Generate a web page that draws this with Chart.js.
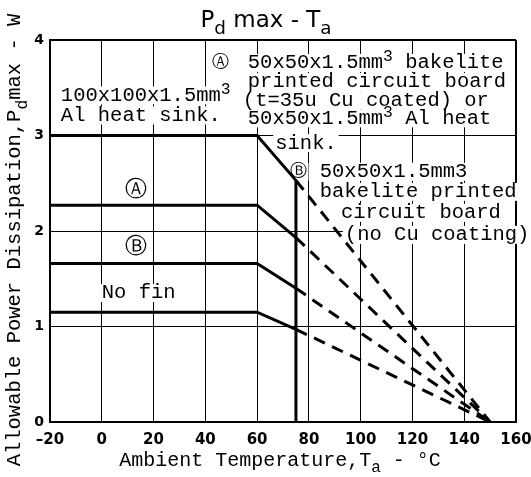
<!DOCTYPE html>
<html>
<head>
<meta charset="utf-8">
<script src="https://cdn.jsdelivr.net/npm/chart.js@4.4.1/dist/chart.umd.min.js"></script>
<style>
html, body { margin: 0; padding: 0; background: #fff; }
</style>
</head>
<body>
<canvas id="myChart" width="531" height="477"></canvas>
<script>
// flat part of each derating curve, then the slope down to 75 C
const flatTemps = [-20, 60, 75];
const heatSinkAl = [3.0, 3.0, 2.53];
const boardA = [2.27, 2.27, 1.93];
const boardB = [1.66, 1.66, 1.40];
const noFin = [1.15, 1.15, 0.97];

// dashed extension from 75 C down to zero at 150 C
const derateTemps = [75, 150];

const xTicks = [-20, 0, 20, 40, 60, 80, 100, 120, 140, 160];
const yTicks = [0, 1, 2, 3, 4];

const MONO = '"Liberation Mono", "DejaVu Sans Mono", monospace';
const SANS = '"DejaVu Sans", sans-serif';

const curves = [heatSinkAl, boardA, boardB, noFin];

const datasets = [];
curves.forEach(vals => {
    datasets.push({
        data: flatTemps.map((t, i) => ({ x: t, y: vals[i] })),
        borderColor: '#000',
        borderWidth: 3,
        pointRadius: 0,
        tension: 0
    });
    datasets.push({
        data: [
            { x: derateTemps[0], y: vals[vals.length - 1] },
            { x: derateTemps[1], y: 0 }
        ],
        borderColor: '#000',
        borderWidth: 3,
        borderDash: [12, 8],
        pointRadius: 0,
        tension: 0
    });
});

// bold vertical limit line at 75 C
datasets.push({
    data: [{ x: 75, y: 0 }, { x: 75, y: heatSinkAl[2] }],
    borderColor: '#000',
    borderWidth: 3,
    pointRadius: 0
});

// text notes, placed in data units
const notes = [
    { x: 46, y: 3.76, text: 'Ⓐ', size: 17, family: SANS, align: 'center' },
    { x: 56.4, y: 3.76, text: '50x50x1.5mm^3 bakelite' },
    { x: 56.4, y: 3.56, text: 'printed circuit board' },
    { x: 54.5, y: 3.37, text: '(t=35u Cu coated) or' },
    { x: 56.4, y: 3.18, text: '50x50x1.5mm^3 Al heat' },
    { x: 67, y: 2.92, text: 'sink.' },
    { x: -15.8, y: 3.42, text: '100x100x1.5mm^3' },
    { x: -15.8, y: 3.21, text: 'Al heat sink.' },
    { x: 13.2, y: 2.43, text: 'Ⓐ', size: 22, family: SANS, align: 'center' },
    { x: 13.2, y: 1.83, text: 'Ⓑ', size: 22, family: SANS, align: 'center' },
    { x: 0, y: 1.35, text: 'No fin' },
    { x: 75.8, y: 2.62, text: 'Ⓑ', size: 17, family: SANS, align: 'center' },
    { x: 84.2, y: 2.62, text: '50x50x1.5mm3' },
    { x: 84.2, y: 2.41, text: 'bakelite printed' },
    { x: 92.4, y: 2.19, text: 'circuit board' },
    { x: 93.9, y: 1.96, text: '(no Cu coating)' }
];

function splitRich(str) {
    const parts = [];
    for (let i = 0; i < str.length; i++) {
        const ch = str[i];
        if ((ch === '^' || ch === '_') && i + 1 < str.length) {
            parts.push({ t: str[i + 1], shift: ch === '^' ? -0.3 : 0.35, scale: 0.8 });
            i++;
        } else if (parts.length && parts[parts.length - 1].shift === 0) {
            parts[parts.length - 1].t += ch;
        } else {
            parts.push({ t: ch, shift: 0, scale: 1 });
        }
    }
    return parts;
}

function drawRich(ctx, str, x, y, size, family, align, onlyMeasure) {
    const parts = splitRich(str);
    let total = 0;
    parts.forEach(p => {
        ctx.font = (size * p.scale) + 'px ' + family;
        p.w = ctx.measureText(p.t).width;
        total += p.w;
    });
    let cx = align === 'center' ? x - total / 2 : x;
    if (onlyMeasure) return { left: cx, width: total };
    ctx.textAlign = 'left';
    ctx.textBaseline = 'middle';
    ctx.fillStyle = '#000';
    parts.forEach(p => {
        ctx.font = (size * p.scale) + 'px ' + family;
        ctx.fillText(p.t, cx, y + p.shift * size);
        cx += p.w;
    });
    return { left: x, width: total };
}

const notesPlugin = {
    id: 'notes',
    beforeDatasetsDraw(chart) {
        const { ctx, scales: { x, y } } = chart;
        ctx.save();
        notes.forEach(n => {
            const size = n.size || 20.5;
            const px = x.getPixelForValue(n.x);
            const py = y.getPixelForValue(n.y);
            const m = drawRich(ctx, n.text, px, py, size, n.family || MONO, n.align, true);
            ctx.fillStyle = '#fff';
            ctx.fillRect(m.left - 2, py - 9, m.width + 4, 18);
        });
        ctx.restore();
    },
    afterDatasetsDraw(chart) {
        const { ctx, scales: { x, y } } = chart;
        ctx.save();
        notes.forEach(n => {
            const size = n.size || 20.5;
            drawRich(ctx, n.text, x.getPixelForValue(n.x), y.getPixelForValue(n.y), size, n.family || MONO, n.align);
        });

        // titles
        drawRich(ctx, 'P_d max - T_a', 266, 21, 23, SANS, 'center');
        drawRich(ctx, 'Ambient Temperature,T_a - °C', 280, 461, 20, MONO, 'center');
        ctx.translate(15, 240);
        ctx.rotate(-Math.PI / 2);
        drawRich(ctx, 'Allowable Power Dissipation,P_dmax - W', 0, 0, 20.5, MONO, 'center');
        ctx.restore();
    }
};

new Chart(document.getElementById('myChart'), {
    type: 'line',
    data: { datasets: datasets },
    options: {
        responsive: false,
        animation: false,
        events: [],
        layout: { padding: { top: 40, right: 15, left: 0, bottom: 0 } },
        plugins: {
            legend: { display: false },
            tooltip: { enabled: false }
        },
        scales: {
            x: {
                type: 'linear',
                min: -20,
                max: 160,
                afterBuildTicks: s => { s.ticks = xTicks.map(v => ({ value: v })); },
                afterFit: s => {
                    s.height = 55;
                    s.paddingLeft = 0;
                    s.paddingRight = 0;
                },
                grid: {
                    color: '#000',
                    lineWidth: c => (c.tick && c.tick.value === 160 ? 2 : 1),
                    drawTicks: false
                },
                border: { color: '#000', width: 2 },
                ticks: {
                    color: '#000',
                    padding: 9,
                    maxRotation: 0,
                    font: { family: SANS, weight: 'bold', size: 15 },
                    callback: v => (v < 0 ? '–' + Math.abs(v) : String(v))
                }
            },
            y: {
                type: 'linear',
                min: 0,
                max: 4,
                afterBuildTicks: s => { s.ticks = yTicks.map(v => ({ value: v })); },
                afterFit: s => { s.width = 50; },
                grid: {
                    color: '#000',
                    lineWidth: c => (c.tick && c.tick.value === 4 ? 2 : 1),
                    drawTicks: false
                },
                border: { color: '#000', width: 2 },
                ticks: {
                    color: '#000',
                    padding: 6,
                    font: { family: SANS, weight: 'bold', size: 14 }
                }
            }
        }
    },
    plugins: [notesPlugin]
});
</script>
</body>
</html>
